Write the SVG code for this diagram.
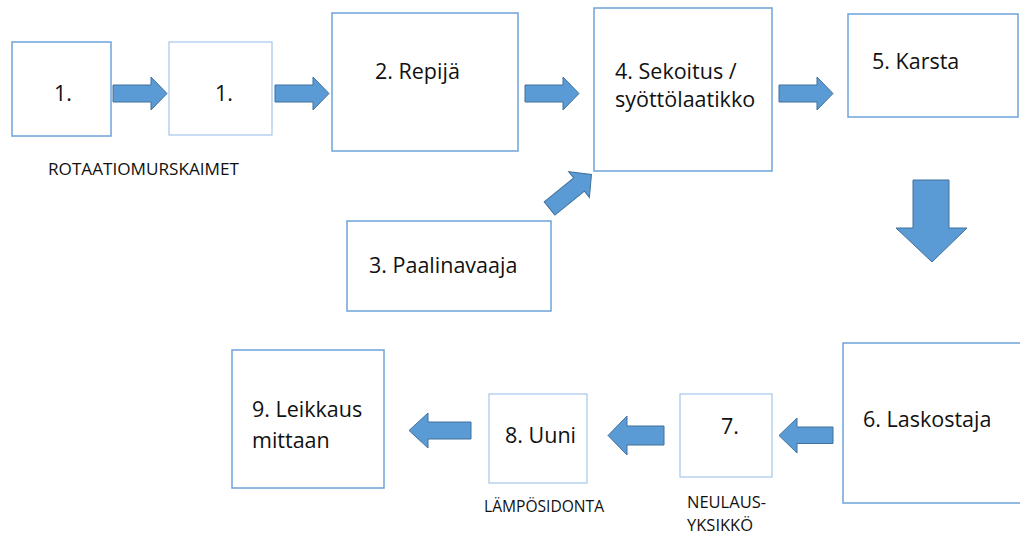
<svg xmlns="http://www.w3.org/2000/svg" xmlns:xlink="http://www.w3.org/1999/xlink" width="1020" height="535" viewBox="0 0 1020 535">
<style>
.box{fill:#fff;stroke:#6fa3d8;stroke-width:1.5}
.lbox{fill:#fff;stroke:#a4c7ea;stroke-width:1.2}
.t{font-family:"Open Sans","Liberation Sans",sans-serif;font-size:21.5px;fill:#111}
.s{font-family:"Open Sans","Liberation Sans",sans-serif;font-size:16.5px;fill:#111}
.arr{fill:#5b9bd5;stroke:#41719c;stroke-width:1}
</style>
<defs>
<path id="ar" d="M0,-8.5 H38 V-16.5 L54,0 L38,16.5 V8.5 H0 Z"/>
</defs>
<rect width="1020" height="535" fill="#fff"/>
<g id="n1a"><rect class="box" x="12" y="42" width="99" height="94"/><text class="t" x="63" y="101" text-anchor="middle">1.</text></g>
<g id="n1b"><rect class="lbox" x="169" y="42" width="103" height="93"/><text class="t" x="224" y="101" text-anchor="middle">1.</text></g>
<g id="lbl1"><text class="s" x="48" y="175" textLength="191" lengthAdjust="spacingAndGlyphs">ROTAATIOMURSKAIMET</text></g>
<g id="n2"><rect class="box" x="332" y="13" width="186" height="138"/><text class="t" x="375" y="79">2. Repijä</text></g>
<g id="n3"><rect class="box" x="347" y="221" width="204" height="90"/><text class="t" x="369" y="273">3. Paalinavaaja</text></g>
<g id="n4"><rect class="box" x="594" y="8" width="178" height="163"/><text class="t" x="615" y="79">4. Sekoitus /</text><text class="t" x="615" y="107">syöttölaatikko</text></g>
<g id="n5"><rect class="box" x="848" y="14" width="170" height="103"/><text class="t" x="872" y="69">5. Karsta</text></g>
<g id="n6"><rect class="box" x="843" y="343" width="190" height="160"/><text class="t" x="863" y="427">6. Laskostaja</text></g>
<g id="n7"><rect class="lbox" x="680" y="394" width="92" height="83"/><text class="t" x="721" y="434">7.</text></g>
<g id="lbl7"><text class="s" x="687" y="508">NEULAUS-</text><text class="s" x="687" y="531">YKSIKKÖ</text></g>
<g id="n8"><rect class="lbox" x="489" y="394" width="98" height="89"/><text class="t" x="505" y="443">8. Uuni</text></g>
<g id="lbl8"><text class="s" x="484" y="512" textLength="120" lengthAdjust="spacingAndGlyphs">LÄMPÖSIDONTA</text></g>
<g id="n9"><rect class="box" x="232" y="350" width="152" height="138"/><text class="t" x="252" y="417">9. Leikkaus</text><text class="t" x="252" y="448">mittaan</text></g>
<g id="connectors">
<use xlink:href="#ar" class="arr" transform="translate(113,93.5)"/>
<use xlink:href="#ar" class="arr" transform="translate(275,93.5)"/>
<use xlink:href="#ar" class="arr" transform="translate(525,93.5)"/>
<use xlink:href="#ar" class="arr" transform="translate(779,93.5)"/>
<use xlink:href="#ar" class="arr" transform="translate(549.5,208.5) rotate(-39)"/>
<path class="arr" d="M913,180 H949 V228 H967 L932,262 L896,228 H913 Z"/>
<path class="arr" d="M833,427 H797 V418 L779,435.5 L797,453 V443.5 H833 Z"/>
<path class="arr" d="M664,426 H627 V416 L608,435.5 L627,455 V445 H664 Z"/>
<path class="arr" d="M471,422 H428 V413 L409,430.5 L428,448 V439 H471 Z"/>
</g>
</svg>
